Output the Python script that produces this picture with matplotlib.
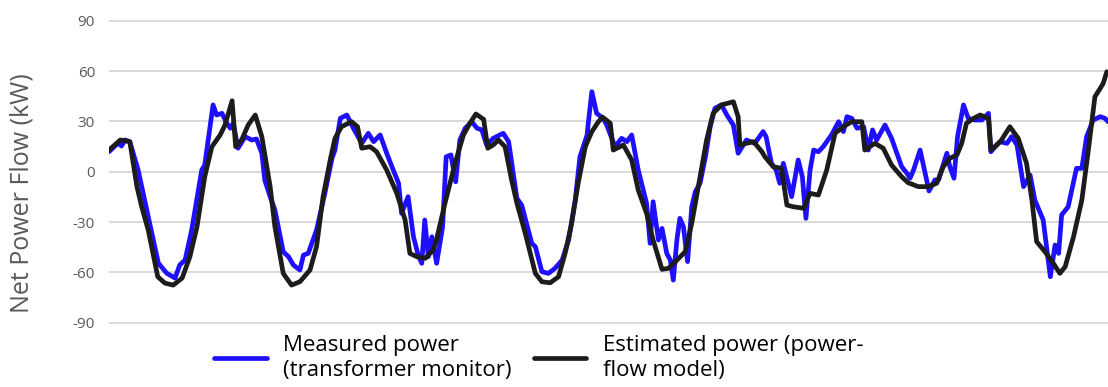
import matplotlib
matplotlib.use("Agg")
import matplotlib.pyplot as plt

# ---- data (hours since start, kW) ----
measured_hours = [
    0, 1.5, 2.1, 2.7, 3.5, 4.9, 6.1, 8.3, 9.7, 11.1, 11.9, 12.8, 13.9, 15.6, 16.1,
    17.5, 18.1, 19.0, 19.8, 20.4, 20.9, 21.7, 22.9, 24.0, 24.8, 25.7, 26.2, 27.1,
    27.9, 29.3, 30.2, 31.0, 32.1, 32.7, 33.5, 34.9, 36.3, 37.5, 38.0, 38.9, 40.0,
    41.1, 42.5, 43.6, 44.5, 45.6, 46.7, 47.8, 48.7, 49.2, 50.3, 51.2, 52.0, 52.6,
    53.1, 53.7, 54.3, 55.1, 56.1, 56.7, 57.5, 58.3, 59.0, 59.9, 61.0, 61.9, 62.7,
    63.5, 64.6, 66.3, 67.2, 68.6, 69.4, 71.1, 71.7, 72.8, 73.9, 75.0, 76.2, 77.3,
    78.4, 79.2, 80.4, 80.6, 81.2, 82.0, 83.1, 83.7, 85.1, 86.2, 87.1, 87.9, 89.0,
    90.4, 91.0, 91.5, 92.4, 93.0, 93.8, 94.4, 94.9, 95.5, 96.0, 96.6, 97.3, 98.0,
    98.6, 99.4, 100.3, 101.1, 101.9, 103.0, 103.9, 105.0, 105.8, 107.2, 108.6,
    110.0, 110.5, 111.4, 112.2, 112.8, 113.4, 114.8, 115.9, 116.6, 117.2, 117.9,
    118.5, 119.3, 120.1, 121.5, 122.7, 123.5, 124.1, 124.9, 125.8, 126.9, 127.7,
    128.4, 129.1, 130.5, 131.6, 133.3, 134.2, 134.7, 135.3, 136.4, 137.9, 138.9,
    139.5, 140.9, 141.4, 142.1, 142.7, 143.7, 144.5, 145.6, 146.8, 147.9, 148.3,
    149.8, 151.0, 151.8, 152.7, 153.8, 154.9, 155.7, 157.1, 158.3, 159.1, 159.7,
    160.2, 161.3, 162.7, 163.6, 164.4, 165.5, 166.7, 167.5, 168.0,
]
measured_kw = [
    11.9, 17, 15.3, 18.9, 17.9, 1, -18.7, -54.5, -60.5, -63.4, -55.6, -52.6, -34.8, 1, 4,
    39.8, 33.8, 34.8, 28.9, 25.9, 28.9, 14, 20.9, 18.9, 19.5, 11, -5, -14.9,
    -22.8, -47.7, -50.7, -55.6, -58.6, -49.7, -48.7, -34.8, -12.9, 8, 12.9, 31.8, 33.8,
    25.9, 16.9, 22.9, 17.9, 21.9, 11, 1, -6.9, -24.8, -14.9, -38.8, -49.7, -54.6,
    -28.8, -50.7, -38.8, -54.6, -32.8, 8.9, 10, -6, 18.9, 25.9, 29.8, 25.9, 24.9,
    15.9, 19.9, 22.9, 17.9, -15.9, -19.9, -42.7, -44.7, -59.6, -60.6, -57.6, -52.7, -40.7,
    -16.9, 8.9, 21.9, 28.9, 47.7, 34.8, 31.8, 27.8, 14.9, 19.9, 17.9, 21.9, 1,
    -18.8, -42.7, -17.9, -40.7, -33.8, -48.7, -52.7, -64.6, -40.7, -27.8, -32.8, -53.6, -20.9,
    -11.9, -6.9, 8.9, 26.8, 37.8, 39.8, 33.8, 27.8, 11, 18.9, 16.9,
    23.9, 20.9, 5, 1, -6.9, 5, -14.9, 7, -3, -27.8, 1,
    12.9, 11.9, 14.9, 21.9, 29.8, 23.9, 32.8, 31.8, 25.9, 26.8, 12.9,
    24.9, 18.9, 27.8, 19.9, 3, -1, -3.9, 1, 12.9, -11.5, -4.9,
    -4.9, 11, 3, -3.9, 20.9, 39.8, 31.8, 30.8, 30.8, 34.8, 11.9,
    17.9, 16.9, 20.9, 15.9, -8.9, -2, -16.9, -28.8, -62.6, -43.7, -48.7,
    -25.8, -20.9, 2, 2, 20.9, 30.8, 32.8, 31.8, 29.8,
]

estimated_hours = [
    0, 1.9, 3.5, 4.7, 5.5, 6.6, 8.2, 9.4, 10.8, 12.3, 13.6, 14.8, 16.1, 17.3, 18.7,
    19.5, 20.7, 21.3, 22.3, 23.4, 24.6, 25.7, 27.1, 27.9, 29.3, 30.7, 32.1, 33.8,
    34.9, 36.0, 37.2, 38.0, 39.1, 40.8, 41.8, 42.5, 43.9, 45.0, 46.7, 48.4, 49.8,
    50.6, 51.8, 53.2, 54.5, 55.0, 56.5, 58.2, 59.6, 60.7, 61.7, 63.0, 63.7, 64.6,
    65.5, 66.6, 67.7, 68.6, 70.0, 71.7, 72.8, 74.2, 75.6, 76.7, 77.8, 78.9, 80.1,
    81.2, 82.3, 83.0, 84.3, 84.8, 86.5, 87.9, 89.0, 90.4, 91.5, 93.0, 94.1, 95.5,
    96.9, 98.0, 99.4, 100.5, 101.6, 103.0, 105.0, 105.8, 106.1, 107.2, 108.4, 109.8,
    110.3, 111.7, 113.1, 114.0, 115.1, 116.8, 117.9, 119.3, 120.7, 122.1, 123.5,
    124.9, 126.6, 127.1, 128.8, 130.2, 131.6, 133.3, 134.4, 136.1, 137.8, 139.2,
    140.3, 141.4, 142.6, 143.4, 144.2, 145.4, 146.5, 147.9, 148.3, 149.9, 151.5,
    152.9, 154.3, 155.2, 156.0, 157.4, 158.8, 159.9, 160.8, 162.2, 163.6, 164.7,
    165.8, 166.7, 167.2, 167.8,
]
estimated_kw = [
    12.9, 18.9, 17.9, -8.9, -20.9, -34.8, -62.6, -66.4, -67.6, -63.4, -50.7, -32.8, -3, 14.9, 21.9,
    27.8, 42.3, 14.9, 18.9, 27.8, 33.8, 20.9, -8.9, -32.8, -60.6, -67.6, -65.6, -58.6,
    -44.7, -14.9, 7, 19.9, 26.8, 29.8, 26.8, 14, 14.9, 11.9, 1, -12.9, -28.8,
    -48.7, -50.7, -51.6, -46.7, -41.7, -18.8, 5, 21.9, 28.9, 34.4, 31.2, 14, 15.9,
    18.9, 14.9, -4.9, -18.8, -36.7, -60.6, -65.6, -66.2, -62.6, -48.7, -30.8, -6.9, 14.9,
    23.9, 29.8, 32.5, 28.9, 12.9, 15.9, 7, -10.9, -24.8, -40.7, -58.2, -57.6, -52.7,
    -47.7, -30.8, -3, 18.9, 34.8, 39.8, 41.7, 32.8, 15.9, 16.9, 17.9, 11.9,
    8.9, 3, 2, -19.9, -20.9, -21.8, -12.9, -13.9, 1, 22.9, 26.8,
    29.8, 29.8, 12.9, 16.9, 14, 4, -3, -6.6, -8.9, -8.9, -6.9,
    3, 8, 10, 16.9, 28.9, 31.8, 33.8, 31.8, 12.9, 17.9, 26.8,
    19.9, 5, -16.9, -41.7, -47.7, -54.6, -60.6, -56.6, -38.8, -16.9, 12.9,
    44.7, 49.7, 52.7, 59.6,
]

y_ticks = [-90, -60, -30, 0, 30, 60, 90]
y_label = "Net Power Flow (kW)"
series_labels = ["Measured power\n(transformer monitor)",
                 "Estimated power (power-\nflow model)"]

# ---- figure ----
plt.rcParams['font.family'] = ['Open Sans', 'DejaVu Sans']
W, H = 1108, 387
fig = plt.figure(figsize=(W / 100, H / 100), dpi=100)

ymin, ymax = -92, 92
px_per_unit = (322.7 - 20.7) / 180.0
top_px = 20.7 - (ymax - 90) * px_per_unit
bot_px = 322.7 + (-90 - ymin) * px_per_unit
ax = fig.add_axes([109 / W, 1 - bot_px / H, 999 / W, (bot_px - top_px) / H])

blue = '#1f0fff'
black = '#1c1c1c'
l1, = ax.plot(measured_hours, measured_kw, color=blue, lw=3.4,
              solid_joinstyle='round', solid_capstyle='round', zorder=3)
l2, = ax.plot(estimated_hours, estimated_kw, color=black, lw=3.4,
              solid_joinstyle='round', solid_capstyle='round', zorder=4)

ax.set_xlim(0, 168)
ax.set_ylim(ymin, ymax)
ax.set_yticks(y_ticks)
ax.set_yticklabels([str(t) for t in y_ticks])
ax.set_xticks([])
for s in ax.spines.values():
    s.set_visible(False)
ax.yaxis.grid(True, color='#d9d9d9', lw=1.4)
ax.set_axisbelow(True)
ax.tick_params(axis='y', length=0, pad=10, labelsize=11, labelcolor='#595959')

fig.text(22 / W, 1 - 193 / H, y_label, rotation=90, ha='center', va='center',
         fontsize=18, color='#595959')

fig.legend([l1, l2], series_labels, loc='center', ncol=2,
           bbox_to_anchor=(539 / W, 1 - 358 / H), frameon=False,
           fontsize=16, handlelength=2.35, handletextpad=0.75, columnspacing=1.0,
           labelspacing=0.2)

fig.savefig('out.png', dpi=100)
